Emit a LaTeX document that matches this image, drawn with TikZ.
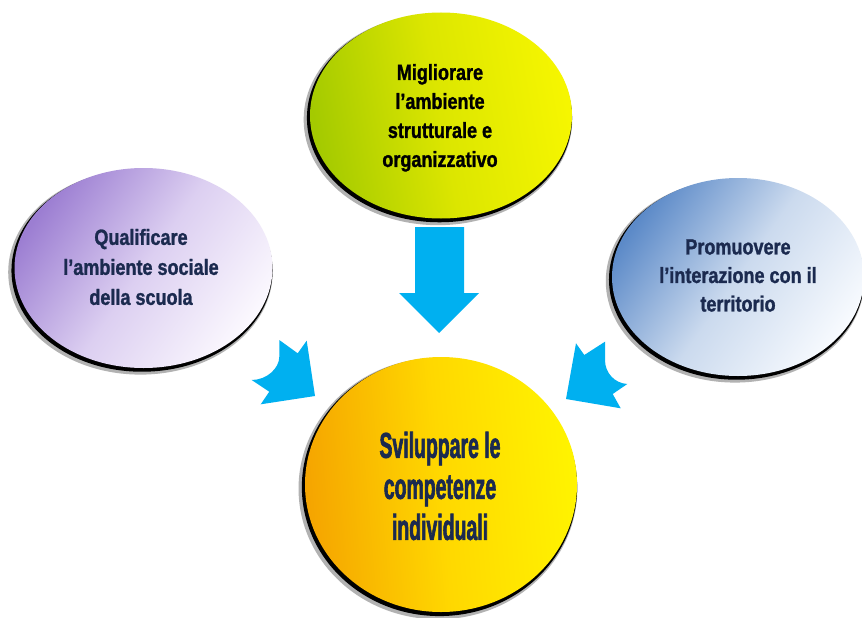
\documentclass[tikz,border=0pt]{standalone}
\usepackage{fontspec}
\newfontfamily\lblfont{Liberation Sans}[FakeStretch=0.82, FakeBold=1.2]
\newfontfamily\bigfont{Liberation Sans}[FakeStretch=0.54, FakeBold=1.6]
\usetikzlibrary{shapes.geometric,shadows}
\definecolor{arrowblue}{HTML}{00B0F0}
\definecolor{navytext}{HTML}{1B2A4F}
\definecolor{lilacdark}{HTML}{9C7ED2}
\definecolor{lilacmid}{HTML}{DCCFF1}
\definecolor{lilaclight}{HTML}{FBF8FE}
\definecolor{bluedark}{HTML}{5C8AC8}
\definecolor{bluemid}{HTML}{CBDAEE}
\definecolor{bluelight}{HTML}{F7FAFE}
\definecolor{greenyel}{HTML}{A4CA00}
\definecolor{yelmid}{HTML}{DCE600}
\definecolor{yelbright}{HTML}{F6F600}
\definecolor{orangeL}{HTML}{F5A400}
\definecolor{orangeM}{HTML}{FFD800}
\definecolor{yellowR}{HTML}{FFF400}
\begin{document}
\begin{tikzpicture}[x=1pt,y=-1pt,
  bubble/.style={ellipse, inner sep=0pt, draw=none,
    general shadow={fill=black!30, shadow scale=1.025, shadow xshift=-3pt, shadow yshift=-4pt},
    general shadow={fill=black, shadow scale=1.012, shadow xshift=-1.5pt, shadow yshift=-2.5pt}},
  midtext/.style={align=center, inner sep=0pt, text=navytext,
    font=\lblfont\bfseries\fontsize{22}{30}\selectfont},
  bigtext/.style={align=center, inner sep=0pt, text=navytext,
    font=\bigfont\bfseries\fontsize{36}{41}\selectfont},
  arrowfill/.style={fill=arrowblue, draw=none}]
\useasboundingbox (0,0) rectangle (862,618);
\fill[white] (0,0) rectangle (862,618);

% ellipses
\node[bubble, minimum width=262pt, minimum height=206pt,
  top color=greenyel, bottom color=yelbright, middle color=yelmid, shading angle=100]
  (top) at (441,115.5) {};
\node[bubble, minimum width=258pt, minimum height=200pt,
  top color=lilacdark, bottom color=lilaclight, middle color=lilacmid, shading angle=55]
  (left) at (143.5,268) {};
\node[bubble, minimum width=252pt, minimum height=198pt,
  top color=bluedark, bottom color=bluelight, middle color=bluemid, shading angle=55]
  (right) at (738,277) {};
\node[bubble, minimum width=272pt, minimum height=255pt,
  top color=orangeL, bottom color=yellowR, middle color=orangeM, shading angle=95]
  (bottom) at (441,484.5) {};

% texts
\node[midtext, text=black, font=\lblfont\bfseries\fontsize{22}{29}\selectfont]
  (toptext) at (440,117.8) {Migliorare\\l’ambiente\\strutturale e\\organizzativo};
\node[midtext] (lefttext) at (141,267) {Qualificare\\l’ambiente sociale\\della scuola};
\node[midtext, font=\lblfont\bfseries\fontsize{22}{28.5}\selectfont]
  (righttext) at (738,275.5) {Promuovere\\l’interazione con il\\territorio};
\node[bigtext] (bottomtext) at (440,486) {Sviluppare le\\competenze\\individuali};

% arrows
\path[arrowfill] (415,227) -- (464,227) -- (464,293) -- (479,293) -- (439,333)
  -- (399,293) -- (415,293) -- cycle;
\path[arrowfill] (279.3,340) -- (297.7,353.3) -- (306.7,340.7) -- (315,396)
  -- (260.7,404.3) -- (269.3,391.7) -- (251.7,380)
  .. controls (266.7,380) and (279.3,368.3) .. (279.3,356.7) -- cycle;
\path[arrowfill] (576,343.3) -- (584.3,355) -- (605,341.7) -- (605,360)
  .. controls (605,373.3) and (615,383.3) .. (627.3,384)
  -- (612.7,394) -- (620.7,408.3) -- (566,399) -- cycle;
\end{tikzpicture}
\end{document}
